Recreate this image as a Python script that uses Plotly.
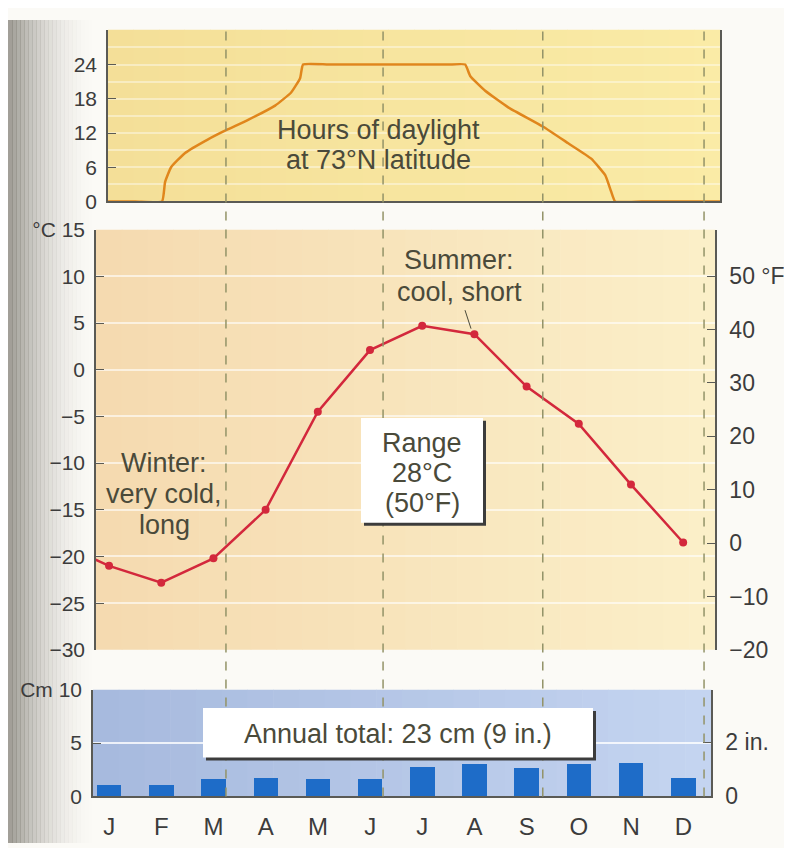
import plotly.graph_objects as go

# ---------------- data ----------------
months = ["J", "F", "M", "A", "M", "J", "J", "A", "S", "O", "N", "D"]
month_pos = list(range(12))

temp_c = [-21.0, -22.8, -20.2, -15.0, -4.5, 2.1, 4.7, 3.8, -1.8, -5.8, -12.3, -18.5]
precip_cm = [1.08, 1.14, 1.70, 1.75, 1.70, 1.63, 2.77, 3.08, 2.74, 3.08, 3.20, 1.75]

# daylight curve (position in months, hours)
daylight_pos = [-1.0, 0.5, 1.015, 1.073, 1.188, 1.456, 1.897, 2.241, 2.663, 3.180, 3.487, 3.659, 3.716,
                4.2, 5.0, 6.0, 6.5, 6.820, 6.916, 7.203, 7.644, 8.314, 8.793, 9.234, 9.502, 9.617, 9.693,
                10.2, 11.0, 13.0]
daylight_hrs = [0, 0, 0, 3.4, 6.0, 8.5, 10.9, 12.5, 14.3, 16.8, 19.1, 21.6, 24,
                24, 24, 24, 24, 24, 22.0, 19.4, 16.5, 13.1, 10.2, 7.5, 4.6, 1.7, 0,
                0, 0, 0]

# equinox / solstice markers (month position)
season_marks = [2.24, 5.25, 8.31, 11.40]

c_ticks = [15, 10, 5, 0, -5, -10, -15, -20, -25, -30]
c_text = ["°C 15", "10", "5", "0", "−5", "−10", "−15", "−20", "−25", "−30"]
f_ticks = [50, 40, 30, 20, 10, 0, -10, -20]
f_text = ["50 °F", "40", "30", "20", "10", "0", "−10", "−20"]
h_ticks = [0, 6, 12, 18, 24]
cm_ticks = [0, 5, 10]
cm_text = ["0", "5", "Cm 10"]
in_ticks = [0, 2]
in_text = ["0", "2 in."]

# ---------------- layout helpers ----------------
W, H = 792, 848
def px(x):
    return x / W
def py(y):
    return 1 - y / H

TXT = "#4a4a3a"
AX = "#5a5a55"
TICKFONT = dict(family="Liberation Sans Narrow, Liberation Sans, Arial", size=21, color="#3c3c3c")
TICKFONT_R = dict(family="Liberation Sans, Arial", size=23, color="#3c3c3c")
ANNFONT = dict(family="Liberation Sans, Arial", size=27, color=TXT)

fig = go.Figure()

# daylight
fig.add_trace(go.Scatter(x=daylight_pos, y=daylight_hrs, mode="lines",
                         line=dict(color="#e0861c", width=2.5, shape="spline", smoothing=0.4),
                         xaxis="x", yaxis="y", showlegend=False, hoverinfo="skip"))

# temperature (with wrap-around from December)
t_x = [-1] + month_pos
t_y = [temp_c[-1]] + temp_c
fig.add_trace(go.Scatter(x=t_x, y=t_y, mode="lines",
                         line=dict(color="#d3283c", width=2.5),
                         xaxis="x2", yaxis="y2", showlegend=False, hoverinfo="skip"))
fig.add_trace(go.Scatter(x=month_pos, y=temp_c, mode="markers",
                         marker=dict(color="#d3283c", size=8),
                         xaxis="x2", yaxis="y2", showlegend=False))
# same temperatures in °F on the right-hand scale (invisible, keeps the axis drawn)
fig.add_trace(go.Scatter(x=month_pos, y=[c * 9 / 5 + 32 for c in temp_c], mode="lines",
                         line=dict(width=0), opacity=0,
                         xaxis="x2", yaxis="y4", showlegend=False, hoverinfo="skip"))

# precipitation
fig.add_trace(go.Bar(x=month_pos, y=precip_cm, width=0.47,
                     marker=dict(color="#1e6cc8", line=dict(width=0)),
                     xaxis="x3", yaxis="y3", showlegend=False))
fig.add_trace(go.Scatter(x=month_pos, y=[p / 2.54 for p in precip_cm], mode="lines",
                         line=dict(width=0), opacity=0,
                         xaxis="x3", yaxis="y5", showlegend=False, hoverinfo="skip"))

common_x = dict(showgrid=False, zeroline=False, ticks="", showticklabels=False, fixedrange=True)

fig.update_layout(
    width=W, height=H,
    margin=dict(l=0, r=0, t=0, b=0),
    paper_bgcolor="#fbfaf6",
    plot_bgcolor="rgba(0,0,0,0)",
    font=dict(family="Liberation Sans, Arial", color="#3c3c3c"),
    bargap=0,
    # ---- top: daylight ----
    xaxis=dict(domain=[px(100), px(712)], range=[-0.02, 11.70], anchor="y",
               showline=True, linecolor=AX, linewidth=1.5, **common_x),
    yaxis=dict(domain=[py(187), py(10)], range=[0, 30.1], anchor="x",
               tickvals=h_ticks, ticks="inside", ticklen=8, tickcolor=AX,
               showline=True, mirror=True, linecolor=AX, linewidth=1.5,
               showgrid=False, zeroline=False,
               minor=dict(dtick=3, tick0=0, showgrid=True, gridcolor="rgba(255,255,255,0.4)", gridwidth=1.5),
               tickfont=TICKFONT, ticklabelstandoff=5),
    # ---- middle: temperature ----
    xaxis2=dict(domain=[px(88), px(707)], range=[-0.25, 11.61], anchor="y2",
                showline=False, **common_x),
    yaxis2=dict(domain=[py(649), py(216)], range=[-30, 15], anchor="x2",
                tickvals=c_ticks, ticktext=c_text, ticks="inside", ticklen=8, tickcolor=AX,
                showline=True, linecolor=AX, linewidth=1.5,
                showgrid=True, gridcolor="rgba(255,255,255,0.6)", gridwidth=1.5, zeroline=False,
                tickfont=TICKFONT, ticklabelstandoff=5),
    yaxis4=dict(overlaying="y2", side="right", anchor="x2", range=[-20, 58.7],
                tickvals=f_ticks, ticktext=f_text, ticks="inside", ticklen=8, tickcolor=AX,
                showline=True, linecolor=AX, linewidth=1.5, showgrid=False, zeroline=False,
                tickfont=TICKFONT_R, ticklabelstandoff=8),
    # ---- bottom: precipitation ----
    xaxis3=dict(domain=[px(85), px(703)], range=[-0.31, 11.53], anchor="y3",
                showline=True, linecolor=AX, linewidth=1.5, showgrid=False, zeroline=False,
                tickvals=month_pos, ticktext=months, ticks="",
                tickfont=dict(family="Liberation Sans, Arial", size=24, color="#3c3c3c"),
                ticklabelstandoff=8),
    yaxis3=dict(domain=[py(800), py(690)], range=[0, 10], anchor="x3",
                tickvals=cm_ticks, ticktext=cm_text, ticks="inside", ticklen=8, tickcolor=AX,
                showline=True, linecolor=AX, linewidth=1.5,
                showgrid=True, gridcolor="rgba(255,255,255,0.8)", gridwidth=1.5, zeroline=False,
                tickfont=TICKFONT, ticklabelstandoff=5),
    yaxis5=dict(overlaying="y3", side="right", anchor="x3", range=[0, 10 / 2.54],
                tickvals=in_ticks, ticktext=in_text, ticks="inside", ticklen=8, tickcolor=AX,
                showline=True, linecolor=AX, linewidth=1.5, showgrid=False, zeroline=False,
                tickfont=TICKFONT_R, ticklabelstandoff=8),
)

def blend(c1, c2, t):
    a = [int(c1[i:i + 2], 16) for i in (1, 3, 5)]
    b = [int(c2[i:i + 2], 16) for i in (1, 3, 5)]
    return "#" + "".join(f"{round(a[k] + (b[k] - a[k]) * t):02x}" for k in range(3))

shapes = []
def gradient_panel(x0, x1, y0, y1, cl, cr, n=24):
    step = (x1 - x0) / n
    for i in range(n):
        shapes.append(dict(type="rect", xref="paper", yref="paper", layer="below",
                           x0=px(x0 + i * step), x1=px(x0 + (i + 1) * step + 0.6),
                           y0=py(y1), y1=py(y0),
                           fillcolor=blend(cl, cr, i / (n - 1)), line=dict(width=0)))

gradient_panel(100, 712, 10, 187, "#f4df98", "#faeba6")
gradient_panel(88, 707, 216, 649, "#f5dab0", "#fbefc8")
gradient_panel(85, 703, 690, 800, "#a7bade", "#c4d4f0")

# binding shadow on the left edge (drawn below the panels)
nstrip = 22
for i in range(nstrip):
    t = i / nstrip
    shapes.insert(0, dict(type="rect", xref="paper", yref="paper", layer="below",
                          x0=px(i * 4), x1=px((i + 1) * 4 + 0.5), y0=0, y1=1,
                          fillcolor="#6a675e", opacity=0.62 * (1 - t) ** 2,
                          line=dict(width=0)))
# dashed season markers
for m in season_marks:
    shapes.append(dict(type="line", xref="x2", yref="paper", layer="above",
                       x0=m, x1=m, y0=py(800), y1=py(10),
                       line=dict(color="#939368", width=1.5, dash="dash")))
# leader line for summer note
shapes.append(dict(type="line", xref="paper", yref="paper", layer="above",
                   x0=px(457), x1=px(463), y0=py(299), y1=py(318),
                   line=dict(color="#4a4a3a", width=1)))
# range box with shadow
shapes.append(dict(type="rect", xref="paper", yref="paper", layer="above",
                   x0=px(356), x1=px(478), y0=py(521), y1=py(413),
                   fillcolor="#3c3c3c", line=dict(width=0)))
shapes.append(dict(type="rect", xref="paper", yref="paper", layer="above",
                   x0=px(353), x1=px(475), y0=py(518), y1=py(410),
                   fillcolor="#ffffff", line=dict(width=0)))
# annual total box with shadow
shapes.append(dict(type="rect", xref="paper", yref="paper", layer="above",
                   x0=px(198), x1=px(588), y0=py(763), y1=py(712),
                   fillcolor="#3c3c3c", line=dict(width=0)))
shapes.append(dict(type="rect", xref="paper", yref="paper", layer="above",
                   x0=px(195), x1=px(585), y0=py(760), y1=py(709),
                   fillcolor="#ffffff", line=dict(width=0)))
fig.update_layout(shapes=shapes)

ann = []
def note(lines, x, y0, dy):
    for k, text in enumerate(lines):
        ann.append(dict(text=text, x=px(x), y=py(y0 + k * dy), xref="paper", yref="paper",
                        showarrow=False, xanchor="center", yanchor="middle",
                        align="center", font=ANNFONT))
note(["Hours of daylight", "at 73°N latitude"], 370, 113, 31)
note(["Summer:", "cool, short"], 451, 247, 33)
note(["Winter:", "very cold,", "long"], 156, 456, 32)
note(["Range", "28°C", "(50°F)"], 414, 436, 31)
note(["Annual total: 23 cm (9 in.)"], 390, 736, 0)
fig.update_layout(annotations=ann)

fig.write_html("out.html")
